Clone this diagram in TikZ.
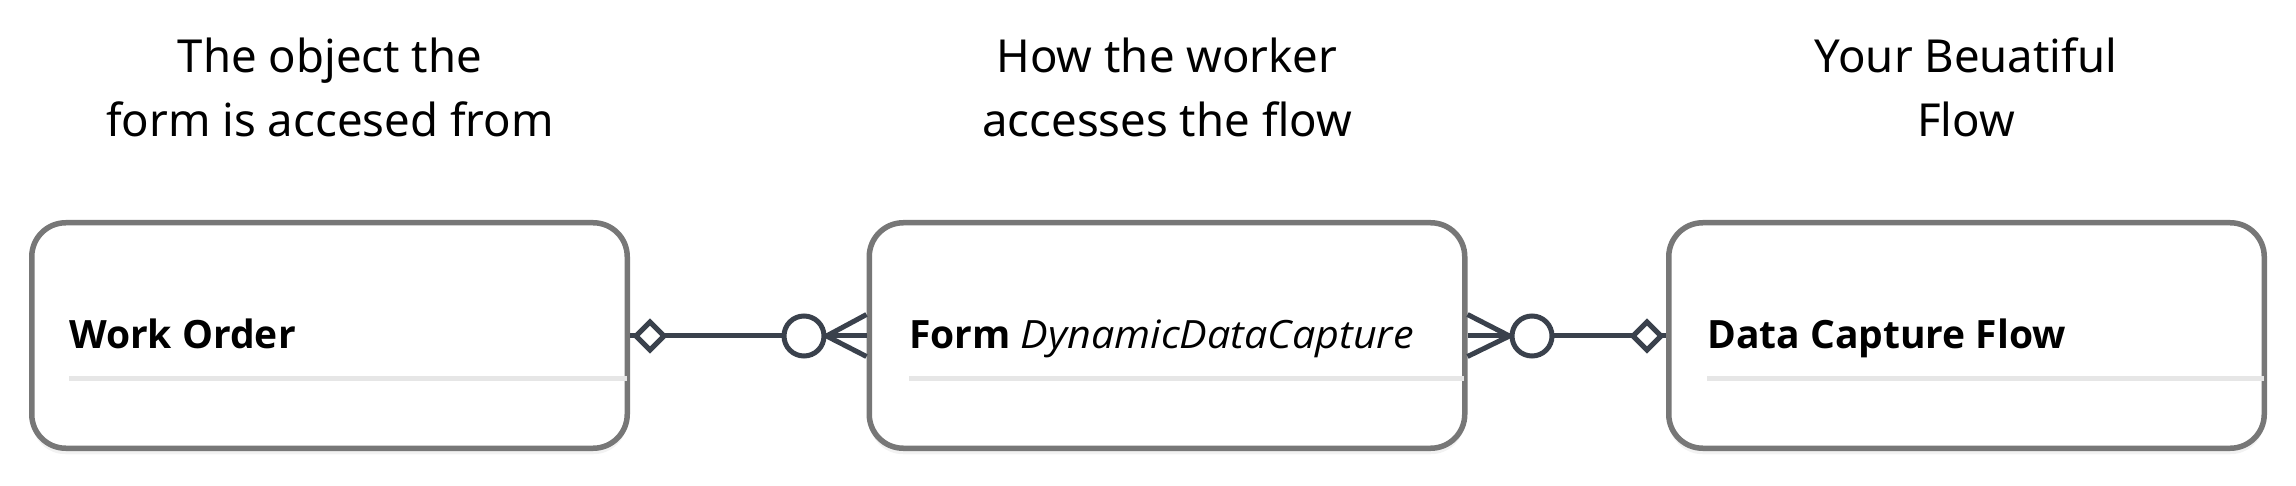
\documentclass[tikz,border=0pt]{standalone}
\usepackage{fontspec}
\setmainfont{Noto Sans}
\newfontfamily\titlefont{Open Sans}
\usetikzlibrary{shadows,calc}
\definecolor{bordergray}{HTML}{777777}
\definecolor{conncol}{HTML}{3A414C}
\definecolor{sepgray}{HTML}{E6E6E6}
\tikzset{
  entity/.style={rectangle, rounded corners=34pt, draw=bordergray, line width=5.5pt, fill=white,
    minimum width=595.5pt, minimum height=225.5pt, inner sep=0pt,
    drop shadow={opacity=0.10, shadow xshift=0pt, shadow yshift=-6pt}},
  etitle/.style={inner sep=0pt, font=\titlefont\fontsize{39}{46}\selectfont, text=black},
  header/.style={inner sep=0pt, font=\fontsize{45.5}{52}\selectfont, text=black},
  conn/.style={draw=conncol, line width=5pt},
  sepline/.style={draw=sepgray, line width=5pt},
  optcircle/.style={circle, draw=conncol, line width=5pt, fill=white, minimum size=40pt, inner sep=0pt},
}
\begin{document}
\begin{tikzpicture}[x=1pt,y=-1pt]
\useasboundingbox (0,0) rectangle (2296,486);
% headers
\node[header, anchor=base] (h1a) at (330,73) {The object the};
\node[header, anchor=base] (h1b) at (330,137) {form is accesed from};
\node[header, anchor=base] (h2a) at (1167,73) {How the worker};
\node[header, anchor=base] (h2b) at (1167,137) {accesses the flow};
\node[header, anchor=base] (h3a) at (1966,73) {Your Beuatiful};
\node[header, anchor=base] (h3b) at (1966,137) {Flow};
% entities
\node[entity] (box1) at (329.5,335.5) {};
\node[entity] (box2) at (1167,335.5) {};
\node[entity] (box3) at (1966.5,335.5) {};
\node[etitle, anchor=base west] (t1) at (69,348) {\textbf{Work Order}};
\node[etitle, anchor=base west] (t2) at (909,348) {\textbf{Form} {\itshape\addfontfeatures{FakeStretch=1.06}DynamicDataCapture}};
\node[etitle, anchor=base west] (t3) at (1707,348) {\textbf{Data Capture Flow}};
\draw[sepline] (69,378) -- (627,378);
\draw[sepline] (909,378) -- (1464,378);
\draw[sepline] (1707,378) -- (2264,378);
% connector 1
\draw[conn] (box1.east) -- (box2.west);
\draw[conn, fill=white] (636,336) -- (650,322) -- (664,336) -- (650,350) -- cycle;
\node[optcircle] (c1) at (804,336) {};
\draw[conn] (c1.east) -- ($(box2.west)+(0,-21)$);
\draw[conn] (c1.east) -- ($(box2.west)+(0,21)$);
% connector 2
\draw[conn] (box2.east) -- (box3.west);
\draw[conn, fill=white] (1633,336) -- (1647,322) -- (1661,336) -- (1647,350) -- cycle;
\node[optcircle] (c2) at (1532,336) {};
\draw[conn] (c2.west) -- ($(box2.east)+(0,-21)$);
\draw[conn] (c2.west) -- ($(box2.east)+(0,21)$);
\end{tikzpicture}
\end{document}
